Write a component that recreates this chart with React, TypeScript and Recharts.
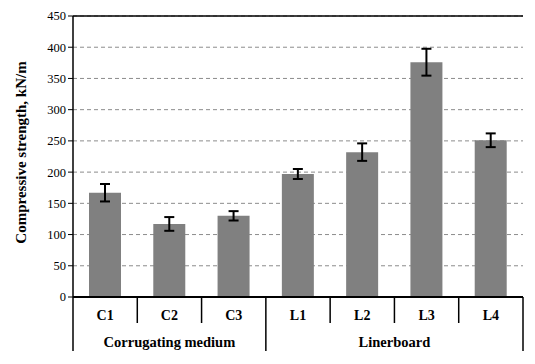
import React from 'react'
import { BarChart, Bar, XAxis, YAxis, CartesianGrid, ErrorBar, ReferenceLine } from 'recharts'

// Values
const CATEGORIES = ['C1', 'C2', 'C3', 'L1', 'L2', 'L3', 'L4']
const STRENGTH = [167, 117, 130, 197, 232, 376, 251]
const STRENGTH_ERR = [14, 11, 7.5, 8, 14, 21.5, 11]
const GROUPS = [
  { label: 'Corrugating medium', start: 0, size: 3 },
  { label: 'Linerboard', start: 3, size: 4 },
]
const Y_TICKS = [0, 50, 100, 150, 200, 250, 300, 350, 400, 450]

const WIDTH = 535
const HEIGHT = 364
const MARGIN = { top: 16, right: 12, bottom: 0, left: 0 }
const Y_AXIS_W = 73
const X_AXIS_H = 67
const PLOT_W = WIDTH - MARGIN.left - MARGIN.right - Y_AXIS_W

const FONT = '"Liberation Serif", "DejaVu Serif", serif'
const boldText = { fontFamily: FONT, fontWeight: 'bold' as const, fontSize: 14 }

const data = CATEGORIES.map((name, i) => ({
  name,
  value: STRENGTH[i],
  err: STRENGTH_ERR[i],
}))

function CategoryTick(props: any) {
  const { x, y, payload, index } = props
  const bw = PLOT_W / CATEGORIES.length
  const left = x - bw / 2
  const group = GROUPS.find((g) => g.start === index)
  const isLast = index === CATEGORIES.length - 1
  return (
    <g>
      <text x={x} y={y + 23} textAnchor="middle" style={boldText} fill="#000">
        {payload.value}
      </text>
      <line x1={left} x2={left} y1={y} y2={group ? y + 54 : y + 26} stroke="#000" strokeWidth={1.5} />
      {isLast && <line x1={x + bw / 2} x2={x + bw / 2} y1={y} y2={y + 54} stroke="#000" strokeWidth={1.5} />}
      {group && (
        <text
          x={left + (group.size * bw) / 2}
          y={y + 50}
          textAnchor="middle"
          style={{ ...boldText, fontSize: 14.5 }}
          fill="#000"
        >
          {group.label}
        </text>
      )}
    </g>
  )
}

function YTitle(props: any) {
  const { viewBox } = props
  const cx = viewBox.x + 21
  const cy = viewBox.y + viewBox.height / 2 - 4
  return (
    <text
      x={cx}
      y={cy}
      transform={`rotate(-90, ${cx}, ${cy})`}
      textAnchor="middle"
      dominantBaseline="central"
      style={{ ...boldText, fontSize: 15 }}
      fill="#000"
    >
      Compressive strength, kN/m
    </text>
  )
}

export default function App() {
  return (
    <div style={{ width: WIDTH, height: HEIGHT, background: '#fff' }}>
      <style>{'body{margin:0}'}</style>
      <BarChart width={WIDTH} height={HEIGHT} data={data} margin={MARGIN} barCategoryGap="25%">
        <CartesianGrid vertical={false} stroke="#8c8c8c" strokeDasharray="4 3" />
        <XAxis
          dataKey="name"
          height={X_AXIS_H}
          tickSize={0}
          tickMargin={0}
          tickLine={false}
          axisLine={{ stroke: '#000', strokeWidth: 2 }}
          tick={<CategoryTick />}
          interval={0}
        />
        <YAxis
          width={Y_AXIS_W}
          domain={[0, 450]}
          ticks={Y_TICKS}
          interval={0}
          tickSize={5}
          tickLine={{ stroke: '#000' }}
          axisLine={{ stroke: '#000', strokeWidth: 1.5 }}
          tick={{ style: { fontFamily: FONT, fontSize: 12.5 }, fill: '#000' }}
          label={<YTitle />}
        />
        <YAxis
          yAxisId="right"
          orientation="right"
          width={0}
          domain={[0, 450]}
          tick={false}
          tickLine={false}
          axisLine={{ stroke: '#000', strokeWidth: 1.5 }}
        />
        <ReferenceLine y={450} stroke="#000" strokeWidth={1.5} />
        <Bar dataKey="value" fill="#808080" barSize={32} isAnimationActive={false}>
          <ErrorBar dataKey="err" width={5} stroke="#000" strokeWidth={2} direction="y" />
        </Bar>
      </BarChart>
    </div>
  )
}
